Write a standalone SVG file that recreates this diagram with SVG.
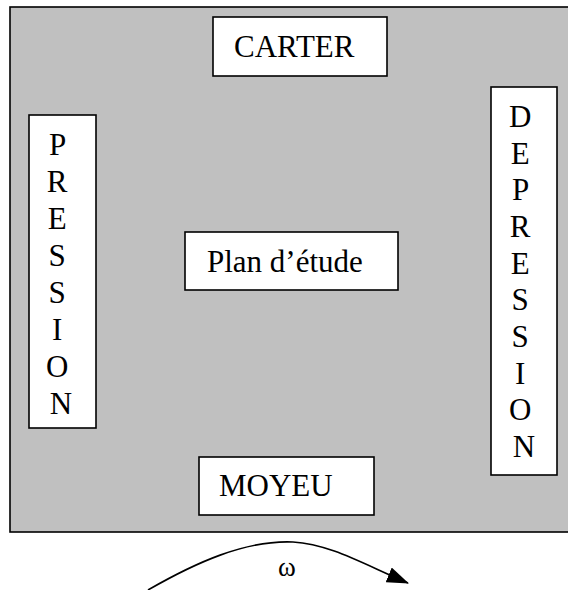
<svg xmlns="http://www.w3.org/2000/svg" width="568" height="590" viewBox="0 0 568 590">
<style>
.box{fill:#fff;stroke:#000;stroke-width:1.6}
.t{font-family:"Liberation Serif","Times New Roman",serif;font-size:31px;fill:#000}
.v{text-anchor:middle}
</style>
<defs>
<marker id="ah" markerWidth="22" markerHeight="16" refX="21" refY="8" orient="auto" markerUnits="userSpaceOnUse" viewBox="0 0 22 16">
<path d="M0,0 L22,8 L0,16 Z" fill="#000"/>
</marker>
</defs>
<rect width="568" height="590" fill="#fff"/>
<g id="background">
<rect x="10" y="7" width="570" height="525" fill="#c0c0c0" stroke="#000" stroke-width="1.6"/>
</g>
<g id="carter">
<rect class="box" x="213" y="17" width="174" height="59"/>
<text class="t" x="234" y="57">CARTER</text>
</g>
<g id="plan">
<rect class="box" x="185" y="232" width="213" height="58"/>
<text class="t" x="207" y="272">Plan d’étude</text>
</g>
<g id="moyeu">
<rect class="box" x="199" y="457" width="175" height="58"/>
<text class="t" x="219" y="496">MOYEU</text>
</g>
<g id="pression">
<rect class="box" x="29" y="115" width="67" height="313"/>
<text class="t v">
<tspan x="61" y="155">P</tspan>
<tspan x="61" y="192">R</tspan>
<tspan x="61" y="229">E</tspan>
<tspan x="61" y="266">S</tspan>
<tspan x="61" y="303">S</tspan>
<tspan x="61" y="340">I</tspan>
<tspan x="61" y="377">O</tspan>
<tspan x="61" y="414">N</tspan>
</text>
</g>
<g id="depression">
<rect class="box" x="491" y="87" width="66" height="388"/>
<text class="t v">
<tspan x="524" y="127">D</tspan>
<tspan x="524" y="163.7">E</tspan>
<tspan x="524" y="200.3">P</tspan>
<tspan x="524" y="237">R</tspan>
<tspan x="524" y="273.7">E</tspan>
<tspan x="524" y="310.3">S</tspan>
<tspan x="524" y="347">S</tspan>
<tspan x="524" y="383.7">I</tspan>
<tspan x="524" y="420.3">O</tspan>
<tspan x="524" y="457">N</tspan>
</text>
</g>
<g id="connectors">
<path d="M148,590 C195,563 245,540 293,542 C330,544 365,565 408,583" fill="none" stroke="#000" stroke-width="1.6" marker-end="url(#ah)"/>
<text x="287" y="576" text-anchor="middle" style="font-family:'Liberation Serif','Times New Roman',serif;font-size:27px">ω</text>
</g>
</svg>
